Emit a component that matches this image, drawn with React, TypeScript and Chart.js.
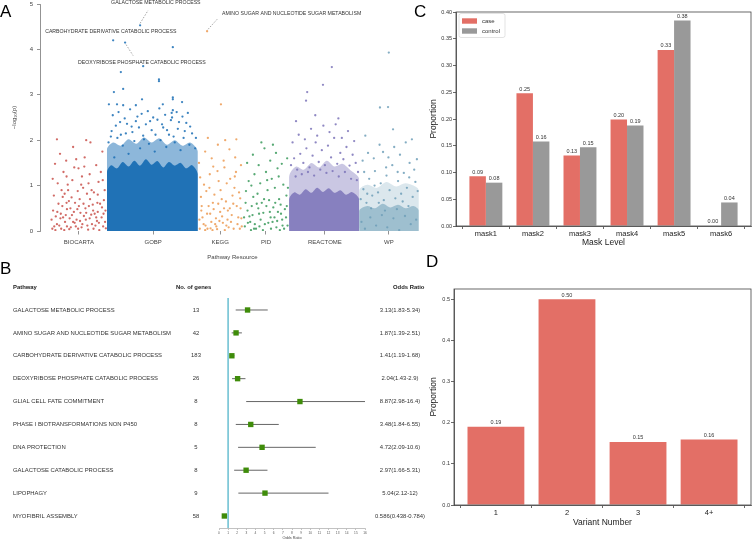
import React, { useEffect, useRef } from "react";
import { Chart, registerables } from "chart.js";
Chart.register(...registerables);

const FONT = '"Liberation Sans", Arial, Helvetica, sans-serif';

// ---------------- Panel A data (pathway index units 0..100, -log10 p) ----------------
const resources = ["BIOCARTA", "GOBP", "KEGG", "PID", "REACTOME", "WP"];
const resourceCenters = [10.1, 29.4, 46.8, 58.7, 74.0, 90.6];
const resourceColors = ["#c9514b", "#1b6fb5", "#ec9a52", "#3a9a5c", "#7b73b8", "#6e9fb8"];
const yTicksA = [0, 1, 2, 3, 4, 5];

const biocartaPoints: [number, number][] = [
  [3.2, 0.05], [4.1, 0.32], [5.0, 0.12], [5.8, 0.55], [6.5, 0.2], [7.3, 0.9], [8.0, 0.08], [8.8, 0.42], [9.5, 0.25], [10.3, 0.7],
  [11.0, 0.15], [11.8, 0.5], [12.5, 0.03], [13.3, 0.36], [14.0, 0.85], [14.8, 0.22], [15.6, 0.6], [16.4, 0.1], [17.0, 0.45],
  [3.6, 0.78], [4.6, 1.05], [5.4, 0.38], [6.1, 1.3], [7.0, 0.48], [7.7, 0.28], [8.4, 1.12], [9.1, 0.62], [9.9, 0.05], [10.7, 1.02],
  [11.4, 0.33], [12.2, 0.82], [12.9, 1.25], [13.7, 0.58], [14.4, 0.12], [15.2, 1.08], [16.0, 0.3], [16.8, 0.9],
  [3.9, 1.48], [5.2, 1.7], [6.8, 1.55], [8.6, 1.85], [10.0, 1.38], [11.6, 1.62], [13.1, 1.95], [14.6, 1.45], [16.2, 1.75],
  [4.4, 2.02], [9.4, 1.58], [12.0, 2.0], [15.8, 1.3], [3.0, 0.25], [4.8, 0.6], [6.3, 0.02], [7.5, 0.66], [9.0, 0.18], [10.5, 0.4],
  [12.7, 0.55], [14.2, 0.38], [15.4, 0.02], [16.6, 0.68], [5.6, 0.9], [8.2, 0.74], [11.2, 0.95], [13.5, 0.15], [6.9, 1.2],
  [10.9, 1.2], [15.0, 0.8], [3.4, 0.45], [4.4, 0.15], [5.3, 0.28], [6.7, 0.35], [7.9, 0.5], [8.6, 0.2], [9.7, 0.48], [10.8, 0.08],
  [11.9, 0.25], [13.0, 0.7], [13.9, 0.05], [15.0, 0.42], [16.1, 0.52], [16.9, 0.2], [4.0, 0.02], [7.0, 0.1], [12.3, 0.12],
  [3.3, 1.15], [5.9, 0.75], [7.2, 1.02], [9.8, 0.88], [12.6, 1.05], [14.9, 0.62], [16.3, 1.12], [8.9, 1.4], [11.5, 1.42],
  [3.7, 0.1], [4.5, 0.42], [5.5, 0.05], [6.0, 0.3], [6.9, 0.62], [7.6, 0.04], [8.3, 0.35], [9.3, 0.1], [10.1, 0.55], [10.4, 0.22],
  [11.3, 0.6], [12.0, 0.4], [12.9, 0.28], [13.8, 0.45], [14.6, 0.3], [15.3, 0.18], [16.5, 0.38], [17.1, 0.06], [6.4, 0.82], [13.4, 0.9],
];
const gobpPoints: [number, number][] = [
  [17.8, 1.95], [18.6, 2.2], [19.3, 1.62], [20.1, 2.05], [20.8, 2.4], [21.5, 1.88], [22.3, 2.15], [23.0, 1.7], [23.8, 2.3], [24.5, 1.98],
  [25.3, 2.52], [26.0, 1.82], [26.8, 2.1], [27.5, 2.35], [28.3, 1.92], [29.0, 2.22], [29.8, 1.75], [30.5, 2.45], [31.3, 2.0], [32.0, 2.28],
  [32.8, 1.85], [33.5, 2.12], [34.3, 2.5], [35.0, 1.95], [35.8, 2.25], [36.5, 1.78], [37.3, 2.05], [38.0, 2.38], [38.8, 1.9], [39.5, 2.15],
  [40.3, 1.82], [18.4, 2.08], [19.7, 2.32], [21.0, 2.12], [22.6, 2.36], [24.0, 2.18], [25.7, 2.28], [27.0, 2.02], [28.6, 2.42], [30.0, 2.12],
  [31.7, 2.35], [33.0, 2.22], [34.7, 2.08], [36.1, 2.4], [37.6, 2.2], [39.0, 2.3], [40.5, 2.05], [18.9, 2.55], [20.4, 2.62], [22.0, 2.48],
  [23.4, 2.68], [24.9, 2.42], [26.4, 2.58], [28.0, 2.64], [29.4, 2.5], [31.0, 2.7], [32.5, 2.56], [34.0, 2.44], [35.5, 2.62], [37.0, 2.52],
  [38.4, 2.6], [17.9, 2.79], [20.0, 2.79], [21.6, 2.77], [24.9, 2.77], [26.5, 2.9], [31.9, 2.79], [34.5, 2.9], [34.5, 2.94], [36.9, 2.84],
  [34.5, 2.66], [34.2, 2.6], [19.2, 3.06], [21.6, 3.13], [30.9, 3.34], [30.9, 3.3], [21.0, 3.5], [26.8, 3.63], [34.5, 4.05],
];
const gobpCoreBand: [number, number][] = [
  [17.4, 0], [17.4, 1.3], [18.5, 1.45], [20, 1.38], [21.5, 1.52], [23, 1.42], [24.5, 1.55], [26, 1.44], [27.5, 1.58], [29, 1.46],
  [30.5, 1.54], [32, 1.4], [33.5, 1.52], [35, 1.44], [36.5, 1.5], [38, 1.38], [39.5, 1.45], [41, 1.25], [41, 0],
];
const gobpUpperBand: [number, number][] = [
  [17.4, 0], [17.4, 1.8], [19, 1.95], [21, 1.88], [23, 2.02], [25, 1.92], [27, 2.06], [29, 1.95], [31, 2.04], [33, 1.9],
  [35, 2.0], [37, 1.88], [39, 1.95], [41, 1.75], [41, 0],
];
const keggPoints: [number, number][] = [
  [41.5, 0.05], [42.2, 0.3], [43.0, 0.12], [43.8, 0.55], [44.5, 0.2], [45.3, 0.8], [46.0, 0.04], [46.8, 0.42], [47.5, 0.18], [48.3, 0.65],
  [49.0, 0.08], [49.8, 0.35], [50.5, 0.95], [51.3, 0.15], [52.1, 0.5], [41.8, 0.75], [42.6, 1.02], [43.4, 0.38], [44.1, 1.25], [44.9, 0.62],
  [45.7, 0.28], [46.4, 1.1], [47.2, 0.7], [47.9, 1.4], [48.7, 0.25], [49.4, 1.15], [50.2, 0.6], [50.9, 1.3], [51.7, 0.85], [52.4, 0.1],
  [41.3, 1.5], [42.9, 1.75], [44.6, 1.6], [46.2, 1.9], [47.7, 1.55], [49.2, 1.8], [50.7, 1.62], [52.2, 1.45], [43.6, 2.05], [48.1, 2.0],
  [45.0, 1.42], [51.0, 2.02], [41.9, 0.45], [42.9, 0.02], [44.3, 0.06], [45.1, 0.48], [46.6, 0.22], [48.0, 0.02], [49.6, 0.2], [51.5, 0.3],
  [43.2, 0.88], [46.9, 0.9], [50.0, 0.78], [42.5, 0.15], [45.8, 0.1], [48.8, 0.45], [51.9, 0.05], [47.0, 2.79],
  [41.6, 1.18], [44.0, 0.95], [46.1, 1.32], [48.5, 1.05], [50.6, 1.2], [52.0, 0.72],
  [41.4, 0.25], [42.0, 0.55], [43.5, 0.05], [44.2, 0.38], [45.5, 0.15], [46.3, 0.6], [47.3, 0.32], [48.4, 0.12], [49.3, 0.5],
  [50.3, 0.05], [51.1, 0.55], [52.3, 0.28], [44.8, 0.02], [47.8, 0.5],
];
const pidPoints: [number, number][] = [
  [53.2, 0.1], [53.9, 0.45], [54.6, 0.2], [55.4, 0.75], [56.1, 0.05], [56.9, 0.38], [57.6, 0.62], [58.4, 0.15], [59.1, 0.9], [59.9, 0.3],
  [60.6, 0.52], [61.4, 0.08], [62.1, 0.7], [62.9, 0.25], [63.6, 0.48], [64.3, 0.12], [53.5, 0.88], [54.2, 1.1], [55.0, 0.55], [55.7, 1.25],
  [56.5, 0.82], [57.2, 1.05], [58.0, 0.4], [58.7, 1.3], [59.5, 0.68], [60.2, 1.15], [61.0, 0.95], [61.7, 1.38], [62.5, 0.58], [63.2, 1.02],
  [64.0, 0.78], [53.8, 1.5], [55.3, 1.68], [56.8, 1.45], [58.3, 1.82], [59.8, 1.55], [61.3, 1.72], [62.8, 1.48], [64.2, 1.6], [57.5, 1.95],
  [60.5, 1.9], [53.0, 0.3], [54.8, 0.02], [56.3, 0.6], [57.9, 0.02], [59.3, 0.18], [60.9, 0.3], [62.3, 0.02], [63.9, 0.3], [55.2, 0.35],
  [58.8, 0.55], [61.8, 0.42], [54.0, 0.18], [57.0, 0.1], [60.0, 0.05], [63.0, 0.12], [54.9, 1.0], [59.0, 1.12], [62.0, 1.2], [64.4, 0.95],
  [53.4, 0.62], [54.4, 0.32], [55.8, 0.15], [56.7, 0.5], [57.3, 0.25], [58.2, 0.7], [59.7, 0.42], [60.4, 0.2], [61.1, 0.62],
  [62.6, 0.38], [63.4, 0.05], [64.1, 0.55], [55.6, 0.05], [61.6, 0.22],
];
const reactomePoints: [number, number][] = [
  [65.2, 1.45], [66.0, 1.6], [66.8, 1.35], [67.6, 1.7], [68.4, 1.5], [69.2, 1.82], [70.0, 1.4], [70.8, 1.66], [71.6, 1.95], [72.4, 1.52],
  [73.2, 1.78], [74.0, 1.45], [74.8, 1.88], [75.6, 1.62], [76.4, 2.05], [77.2, 1.48], [78.0, 1.72], [78.8, 1.58], [79.6, 1.85], [80.4, 1.44],
  [81.2, 1.68], [82.0, 1.5], [82.6, 1.3], [65.6, 1.95], [67.2, 2.12], [68.8, 2.02], [70.4, 2.25], [72.0, 2.1], [73.6, 2.32], [75.2, 2.18],
  [76.8, 2.35], [78.4, 2.05], [80.0, 2.2], [81.6, 1.98], [66.4, 1.2], [68.0, 1.25], [69.6, 1.3], [71.2, 1.22], [72.8, 1.35], [74.4, 1.28],
  [76.0, 1.32], [77.6, 1.2], [79.2, 1.3], [80.8, 1.15], [82.3, 1.12], [75.8, 3.61], [73.5, 3.22], [69.4, 3.06], [69.1, 2.87], [71.5, 2.55],
  [77.5, 2.48], [66.5, 2.42],
];
const reactomeCoreBand: [number, number][] = [
  [64.7, 0], [64.7, 0.7], [66, 0.85], [67.5, 0.8], [69, 0.92], [70.5, 0.84], [72, 0.95], [73.5, 0.86], [75, 0.94], [76.5, 0.84],
  [78, 0.9], [79.5, 0.8], [81, 0.86], [82.9, 0.7], [82.9, 0],
];
const reactomeUpperBand: [number, number][] = [
  [64.7, 0], [64.7, 1.2], [66.5, 1.42], [68.5, 1.35], [70.5, 1.5], [72.5, 1.4], [74.5, 1.55], [76.5, 1.42], [78.5, 1.48], [80.5, 1.35],
  [82.9, 1.15], [82.9, 0],
];
const wpPoints: [number, number][] = [
  [83.3, 0.7], [84.0, 0.92], [84.8, 0.62], [85.5, 1.15], [86.3, 0.78], [87.0, 1.32], [87.8, 0.85], [88.5, 1.05], [89.3, 0.68], [90.0, 1.22],
  [90.8, 0.9], [91.5, 1.45], [92.3, 0.72], [93.0, 1.1], [93.8, 0.82], [94.5, 1.28], [95.3, 0.95], [96.0, 1.5], [96.8, 0.75], [97.5, 1.08],
  [98.1, 0.88], [83.8, 1.55], [85.2, 1.72], [86.7, 1.6], [88.2, 1.9], [89.1, 1.74], [90.5, 1.62], [92.0, 1.85], [93.5, 1.68], [95.0, 1.95],
  [96.6, 2.02], [97.9, 1.58], [91.7, 2.24], [84.5, 2.1], [83.5, 0.2], [84.4, 0.05], [85.8, 0.3], [87.3, 0.12], [88.8, 0.35], [90.2, 0.08],
  [91.8, 0.28], [93.3, 0.02], [94.8, 0.33], [96.3, 0.15], [97.7, 0.25], [86.0, 0.5], [89.6, 0.45], [92.7, 0.48], [95.7, 0.55],
  [84.2, 1.3], [86.9, 1.0], [89.9, 1.4], [92.9, 1.3], [95.9, 1.18], [97.2, 1.35], [85.0, 0.82], [88.0, 0.62], [94.2, 0.65],
  [90.6, 3.93], [90.4, 2.73], [88.3, 2.72],
];
const wpCoreBand: [number, number][] = [
  [82.9, 0], [82.9, 0.45], [85, 0.55], [87, 0.5], [89, 0.6], [91, 0.52], [93, 0.58], [95, 0.5], [97, 0.55], [98.4, 0.45], [98.4, 0],
];
const wpUpperBand: [number, number][] = [
  [82.9, 0], [82.9, 0.9], [85, 1.02], [87.5, 0.95], [90, 1.08], [92.5, 0.98], [95, 1.05], [98.4, 0.9], [98.4, 0],
];
const annotatedPathways = [
  "GALACTOSE METABOLIC PROCESS",
  "AMINO SUGAR AND NUCLEOTIDE SUGAR METABOLISM",
  "CARBOHYDRATE DERIVATIVE CATABOLIC PROCESS",
  "DEOXYRIBOSE PHOSPHATE CATABOLIC PROCESS",
];
const annotatedResource = [1, 2, 1, 1];
const annotatedX = [26.0, 43.4, 19.0, 22.1];
const annotatedY = [4.53, 4.4, 4.2, 4.15];

// ---------------- Panel B data ----------------
const pathwayNames = [
  "GALACTOSE METABOLIC PROCESS",
  "AMINO SUGAR AND NUCLEOTIDE SUGAR METABOLISM",
  "CARBOHYDRATE DERIVATIVE CATABOLIC PROCESS",
  "DEOXYRIBOSE PHOSPHATE CATABOLIC PROCESS",
  "GLIAL CELL FATE COMMITMENT",
  "PHASE I BIOTRANSFORMATIONS NON P450",
  "DNA PROTECTION",
  "GALACTOSE CATABOLIC PROCESS",
  "LIPOPHAGY",
  "MYOFIBRIL ASSEMBLY",
];
const geneCounts = [13, 42, 183, 26, 8, 8, 5, 8, 9, 58];
const oddsRatio = [3.13, 1.87, 1.41, 2.04, 8.87, 3.48, 4.72, 2.97, 5.04, 0.586];
const ciLow = [1.83, 1.39, 1.19, 1.43, 2.98, 1.84, 2.09, 1.66, 2.12, 0.438];
const ciHigh = [5.34, 2.51, 1.68, 2.9, 16.4, 6.55, 10.6, 5.31, 12, 0.784];
const orTicks = [0, 1, 2, 3, 4, 5, 6, 7, 8, 9, 10, 11, 12, 13, 14, 15, 16];
const referenceOR = 1;

// ---------------- Panel C data ----------------
const maskLevels = ["mask1", "mask2", "mask3", "mask4", "mask5", "mask6"];
const caseProportion = [0.093, 0.248, 0.132, 0.199, 0.329, 0.0];
const controlProportion = [0.081, 0.158, 0.147, 0.188, 0.384, 0.044];
const yTicksC = [0, 0.05, 0.1, 0.15, 0.2, 0.25, 0.3, 0.35, 0.4];

// ---------------- Panel D data ----------------
const variantNumbers = ["1", "2", "3", "4+"];
const variantProportion = [0.19, 0.5, 0.153, 0.159];
const yTicksD = [0, 0.1, 0.2, 0.3, 0.4, 0.5];

const CASE_COLOR = "#e36f66";
const CONTROL_COLOR = "#999999";

function rgba(hex: string, a: number) {
  const n = parseInt(hex.slice(1), 16);
  return `rgba(${(n >> 16) & 255},${(n >> 8) & 255},${n & 255},${a})`;
}
const fmt3 = (v: number) => String(parseFloat(v.toPrecision(3)));

function setTicks(values: number[]) {
  return (axis: any) => {
    axis.ticks = values.map((v) => ({ value: v }));
  };
}
function fitW(w: number) {
  return (s: any) => {
    s.width = w;
    s.paddingTop = 0;
    s.paddingBottom = 0;
  };
}
function fitH(h: number) {
  return (s: any) => {
    s.height = h;
    s.paddingLeft = 0;
    s.paddingRight = 0;
  };
}

// ---------------- configs ----------------
function makeA(): any {
  const pts = [biocartaPoints, gobpPoints, keggPoints, pidPoints, reactomePoints, wpPoints];
  const datasets: any[] = [];
  pts.forEach((arr, r) => {
    const extra: [number, number][] = [];
    annotatedResource.forEach((ri, k) => {
      if (ri === r) extra.push([annotatedX[k], annotatedY[k]]);
    });
    datasets.push({
      data: arr.concat(extra).map(([x, y]) => ({ x, y })),
      backgroundColor: rgba(resourceColors[r], 0.85),
      borderWidth: 0,
      pointRadius: 1.15,
    });
  });
  const bands: [[number, number][], number, number][] = [
    [gobpCoreBand, 1, 0.95],
    [gobpUpperBand, 1, 0.5],
    [reactomeCoreBand, 4, 0.85],
    [reactomeUpperBand, 4, 0.4],
    [wpCoreBand, 5, 0.55],
    [wpUpperBand, 5, 0.25],
  ];
  bands.forEach(([arr, r, a]) => {
    datasets.push({
      data: arr.map(([x, y]) => ({ x, y })),
      showLine: true,
      fill: "origin",
      backgroundColor: rgba(resourceColors[r], a),
      borderWidth: 0,
      pointRadius: 0,
      tension: 0.3,
    });
  });
  const annoLayout = [
    { dx: -29, dy: -22.7, line: [0, -2, 8, -15] },
    { dx: 15, dy: -17.5, line: [1, -2, 11, -13] },
    { dx: -68, dy: -9, line: null },
    { dx: -47, dy: 20, line: [1, 2, 8, 13] },
  ];
  const annoPlugin = {
    id: "anno",
    afterDatasetsDraw(chart: any) {
      const { ctx, scales } = chart;
      ctx.save();
      ctx.font = `5.2px ${FONT}`;
      ctx.fillStyle = "#333";
      ctx.textBaseline = "middle";
      ctx.textAlign = "left";
      annotatedPathways.forEach((name, k) => {
        const px = scales.x.getPixelForValue(annotatedX[k]);
        const py = scales.y.getPixelForValue(annotatedY[k]);
        const L = annoLayout[k];
        ctx.fillText(name, px + L.dx, py + L.dy);
        if (L.line) {
          ctx.beginPath();
          ctx.setLineDash([1.5, 1.5]);
          ctx.strokeStyle = "#666";
          ctx.lineWidth = 0.6;
          ctx.moveTo(px + L.line[0], py + L.line[1]);
          ctx.lineTo(px + L.line[2], py + L.line[3]);
          ctx.stroke();
          ctx.setLineDash([]);
        }
      });
      ctx.restore();
    },
  };
  return {
    type: "scatter",
    data: { datasets },
    plugins: [annoPlugin],
    options: {
      animation: false,
      responsive: false,
      devicePixelRatio: 1,
      events: [],
      layout: { padding: { left: 10.4, right: 5, top: 3.6, bottom: 4.4 } },
      plugins: { legend: { display: false }, tooltip: { enabled: false } },
      scales: {
        x: {
          type: "linear",
          min: 0,
          max: 100,
          afterBuildTicks: setTicks(resourceCenters),
          afterFit: fitH(29.6),
          grid: { display: true, drawOnChartArea: false, drawTicks: true, tickLength: 3.5, color: "#777", lineWidth: 0.8 },
          border: { display: false },
          ticks: {
            autoSkip: false,
            maxRotation: 0,
            padding: 4.5,
            color: "#444",
            font: { size: 6, family: FONT },
            callback: (v: number) => resources[resourceCenters.indexOf(v)] ?? "",
          },
          title: { display: true, text: "Pathway Resource", color: "#444", font: { size: 6, family: FONT }, padding: 0 },
        },
        y: {
          type: "linear",
          min: 0,
          max: 5,
          afterBuildTicks: setTicks(yTicksA),
          afterFit: fitW(29.6),
          grid: { display: true, drawOnChartArea: false, drawTicks: true, tickLength: 3, color: "#777", lineWidth: 0.8 },
          border: { display: true, color: "#777", width: 0.8 },
          ticks: { padding: 4, color: "#444", font: { size: 6, family: FONT } },
          title: { display: true, text: "\u2212log\u2081\u2080(p)", color: "#444", font: { size: 6, family: FONT }, padding: 0 },
        },
      },
    },
  };
}

function makeB(): any {
  const datasets: any[] = [];
  datasets.push({
    data: oddsRatio.map((v, i) => ({ x: v, y: i })),
    pointStyle: "rect",
    pointRadius: 3.8,
    backgroundColor: "#3f8c0a",
    borderWidth: 0,
  });
  oddsRatio.forEach((_, i) => {
    datasets.push({
      data: [
        { x: ciLow[i], y: i },
        { x: ciHigh[i], y: i },
      ],
      showLine: true,
      borderColor: "#555",
      borderWidth: 0.9,
      pointRadius: 0,
    });
  });
  datasets.push({
    data: [
      { x: referenceOR, y: -0.524 },
      { x: referenceOR, y: 9.524 },
    ],
    showLine: true,
    borderColor: "#7cc6d6",
    borderWidth: 1,
    pointRadius: 0,
  });
  const tablePlugin = {
    id: "table",
    afterDraw(chart: any) {
      const { ctx, scales } = chart;
      const hy = scales.y.getPixelForValue(-1);
      ctx.save();
      ctx.fillStyle = "#222";
      ctx.textBaseline = "middle";
      ctx.font = `bold 5.9px ${FONT}`;
      ctx.textAlign = "left";
      ctx.fillText("Pathway", 13, hy);
      ctx.fillText("No. of genes", 176, hy);
      ctx.fillText("Odds Ratio", 393, hy);
      ctx.font = `5.9px ${FONT}`;
      ctx.fillStyle = "#333";
      pathwayNames.forEach((name, i) => {
        const y = scales.y.getPixelForValue(i);
        ctx.textAlign = "left";
        ctx.fillText(name, 13, y);
        ctx.textAlign = "center";
        ctx.fillText(String(geneCounts[i]), 196, y);
        ctx.fillText(`${fmt3(oddsRatio[i])}(${fmt3(ciLow[i])}-${fmt3(ciHigh[i])})`, 400, y);
      });
      ctx.restore();
    },
  };
  return {
    type: "scatter",
    data: { datasets },
    plugins: [tablePlugin],
    options: {
      animation: false,
      responsive: false,
      devicePixelRatio: 1,
      events: [],
      layout: { padding: { left: 219, right: 65, top: 23, bottom: 0.2 } },
      plugins: { legend: { display: false }, tooltip: { enabled: false } },
      scales: {
        x: {
          type: "linear",
          min: 0,
          max: 16,
          afterBuildTicks: setTicks(orTicks),
          afterFit: fitH(11.8),
          grid: { display: true, drawOnChartArea: false, drawTicks: true, tickLength: 2, color: "#888", lineWidth: 0.5 },
          border: { display: true, color: "#999", width: 0.6 },
          ticks: { autoSkip: false, maxRotation: 0, padding: 1.1, color: "#555", font: { size: 3.2, family: FONT } },
          title: { display: true, text: "Odds Ratio", color: "#444", font: { size: 3.8, family: FONT }, padding: 0 },
        },
        y: {
          type: "linear",
          reverse: true,
          min: -0.524,
          max: 9.524,
          display: false,
        },
      },
    },
  };
}

const framePlugin = {
  id: "frame",
  afterDraw(chart: any) {
    const { ctx, chartArea: a } = chart;
    ctx.save();
    ctx.strokeStyle = "#444";
    ctx.lineWidth = 0.8;
    ctx.strokeRect(a.left, a.top, a.right - a.left, a.bottom - a.top);
    ctx.restore();
  },
};
const barLabelPlugin = {
  id: "barLabels",
  afterDatasetsDraw(chart: any) {
    const ctx = chart.ctx;
    ctx.save();
    ctx.font = `5.5px ${FONT}`;
    ctx.fillStyle = "#333";
    ctx.textAlign = "center";
    ctx.textBaseline = "bottom";
    chart.data.datasets.forEach((ds: any, i: number) => {
      const meta = chart.getDatasetMeta(i);
      meta.data.forEach((el: any, j: number) => {
        ctx.fillText(ds.data[j].y.toFixed(2), el.x, el.y - 1.5);
      });
    });
    ctx.restore();
  },
};

function barAxes(opts: {
  xmin: number;
  xmax: number;
  xticks: number[];
  xlabels: string[];
  xtitle: string;
  ymax: number;
  yticks: number[];
  ydec: number;
  yw: number;
  xh: number;
}) {
  return {
    x: {
      type: "linear",
      min: opts.xmin,
      max: opts.xmax,
      offset: false,
      afterBuildTicks: setTicks(opts.xticks),
      afterFit: fitH(opts.xh),
      grid: { display: true, drawOnChartArea: false, drawTicks: true, tickLength: 3, color: "#444", lineWidth: 0.8 },
      border: { display: true, color: "#444", width: 0.8 },
      ticks: {
        autoSkip: false,
        maxRotation: 0,
        padding: 0,
        color: "#222",
        font: { size: 7.5, family: FONT },
        callback: (v: number) => opts.xlabels[v] ?? "",
      },
      title: { display: true, text: opts.xtitle, color: "#222", font: { size: 8.5, family: FONT }, padding: 0 },
    },
    y: {
      type: "linear",
      min: 0,
      max: opts.ymax,
      afterBuildTicks: setTicks(opts.yticks),
      afterFit: fitW(opts.yw),
      grid: { display: true, drawOnChartArea: false, drawTicks: true, tickLength: 3, color: "#444", lineWidth: 0.8 },
      border: { display: true, color: "#444", width: 0.8 },
      ticks: {
        padding: 1,
        color: "#333",
        font: { size: 5.5, family: FONT },
        callback: (v: number) => v.toFixed(opts.ydec),
      },
      title: { display: true, text: "Proportion", color: "#222", font: { size: 8.5, family: FONT }, padding: 0 },
    },
  };
}

function makeC(): any {
  const legendPlugin = {
    id: "legendC",
    afterDraw(chart: any) {
      const { ctx, chartArea: a } = chart;
      const x0 = a.left + 3;
      const y0 = a.top + 1.5;
      ctx.save();
      ctx.beginPath();
      if (ctx.roundRect) ctx.roundRect(x0, y0, 46, 24, 2);
      else ctx.rect(x0, y0, 46, 24);
      ctx.fillStyle = "rgba(255,255,255,0.85)";
      ctx.fill();
      ctx.strokeStyle = "#d0d0d0";
      ctx.lineWidth = 0.6;
      ctx.stroke();
      const entries: [string, string][] = [
        ["case", CASE_COLOR],
        ["control", CONTROL_COLOR],
      ];
      ctx.font = `6px ${FONT}`;
      ctx.textBaseline = "middle";
      ctx.textAlign = "left";
      entries.forEach(([label, color], k) => {
        const cy = y0 + 7.5 + k * 10;
        ctx.fillStyle = color;
        ctx.fillRect(x0 + 3, cy - 2.7, 15, 5.4);
        ctx.fillStyle = "#333";
        ctx.fillText(label, x0 + 23, cy);
      });
      ctx.restore();
    },
  };
  return {
    type: "bar",
    data: {
      datasets: [
        { label: "case", data: caseProportion.map((v, i) => ({ x: i, y: v })), backgroundColor: CASE_COLOR, borderWidth: 0 },
        { label: "control", data: controlProportion.map((v, i) => ({ x: i, y: v })), backgroundColor: CONTROL_COLOR, borderWidth: 0 },
      ],
    },
    plugins: [framePlugin, barLabelPlugin, legendPlugin],
    options: {
      animation: false,
      responsive: false,
      devicePixelRatio: 1,
      events: [],
      categoryPercentage: 0.7,
      barPercentage: 1.0,
      layout: { padding: { left: 8.9, right: 1, top: 12, bottom: 4.2 } },
      plugins: { legend: { display: false }, tooltip: { enabled: false } },
      scales: barAxes({
        xmin: -0.635,
        xmax: 5.635,
        xticks: maskLevels.map((_, i) => i),
        xlabels: maskLevels,
        xtitle: "Mask Level",
        ymax: 0.4,
        yticks: yTicksC,
        ydec: 2,
        yw: 27.1,
        xh: 21.8,
      }),
    },
  };
}

function makeD(): any {
  return {
    type: "bar",
    data: {
      datasets: [
        { label: "proportion", data: variantProportion.map((v, i) => ({ x: i, y: v })), backgroundColor: CASE_COLOR, borderWidth: 0 },
      ],
    },
    plugins: [framePlugin, barLabelPlugin],
    options: {
      animation: false,
      responsive: false,
      devicePixelRatio: 1,
      events: [],
      categoryPercentage: 0.8,
      barPercentage: 1.0,
      layout: { padding: { left: 8.9, right: 1, top: 9, bottom: 12.6 } },
      plugins: { legend: { display: false }, tooltip: { enabled: false } },
      scales: barAxes({
        xmin: -0.59,
        xmax: 3.59,
        xticks: variantNumbers.map((_, i) => i),
        xlabels: variantNumbers,
        xtitle: "Variant Number",
        ymax: 0.525,
        yticks: yTicksD,
        ydec: 1,
        yw: 25.1,
        xh: 22.4,
      }),
    },
  };
}

function ChartBox(props: { left: number; top: number; width: number; height: number; make: () => any }) {
  const ref = useRef<HTMLCanvasElement>(null);
  useEffect(() => {
    const chart = new Chart(ref.current as HTMLCanvasElement, props.make());
    return () => chart.destroy();
  }, []);
  return (
    <canvas
      ref={ref}
      width={props.width}
      height={props.height}
      style={{ position: "absolute", left: props.left, top: props.top, width: props.width, height: props.height }}
    />
  );
}

function Letter(props: { text: string; left: number; top: number; size: number }) {
  return (
    <div
      style={{
        position: "absolute",
        left: props.left,
        top: props.top,
        fontFamily: FONT,
        fontSize: props.size,
        lineHeight: `${props.size}px`,
        color: "#000",
      }}
    >
      {props.text}
    </div>
  );
}

export default function App() {
  return (
    <div
      style={{
        position: "absolute",
        left: 0,
        top: 0,
        width: 752,
        height: 540,
        background: "#fff",
        overflow: "hidden",
      }}
    >
      <ChartBox left={0} top={0} width={430} height={265} make={makeA} />
      <ChartBox left={0} top={275} width={430} height={265} make={makeB} />
      <ChartBox left={420} top={0} width={332} height={252} make={makeC} />
      <ChartBox left={420} top={280} width={332} height={260} make={makeD} />
      <Letter text="A" left={0} top={3} size={17} />
      <Letter text="B" left={0} top={260} size={17} />
      <Letter text="C" left={414} top={3} size={17} />
      <Letter text="D" left={426} top={253} size={17} />
    </div>
  );
}
